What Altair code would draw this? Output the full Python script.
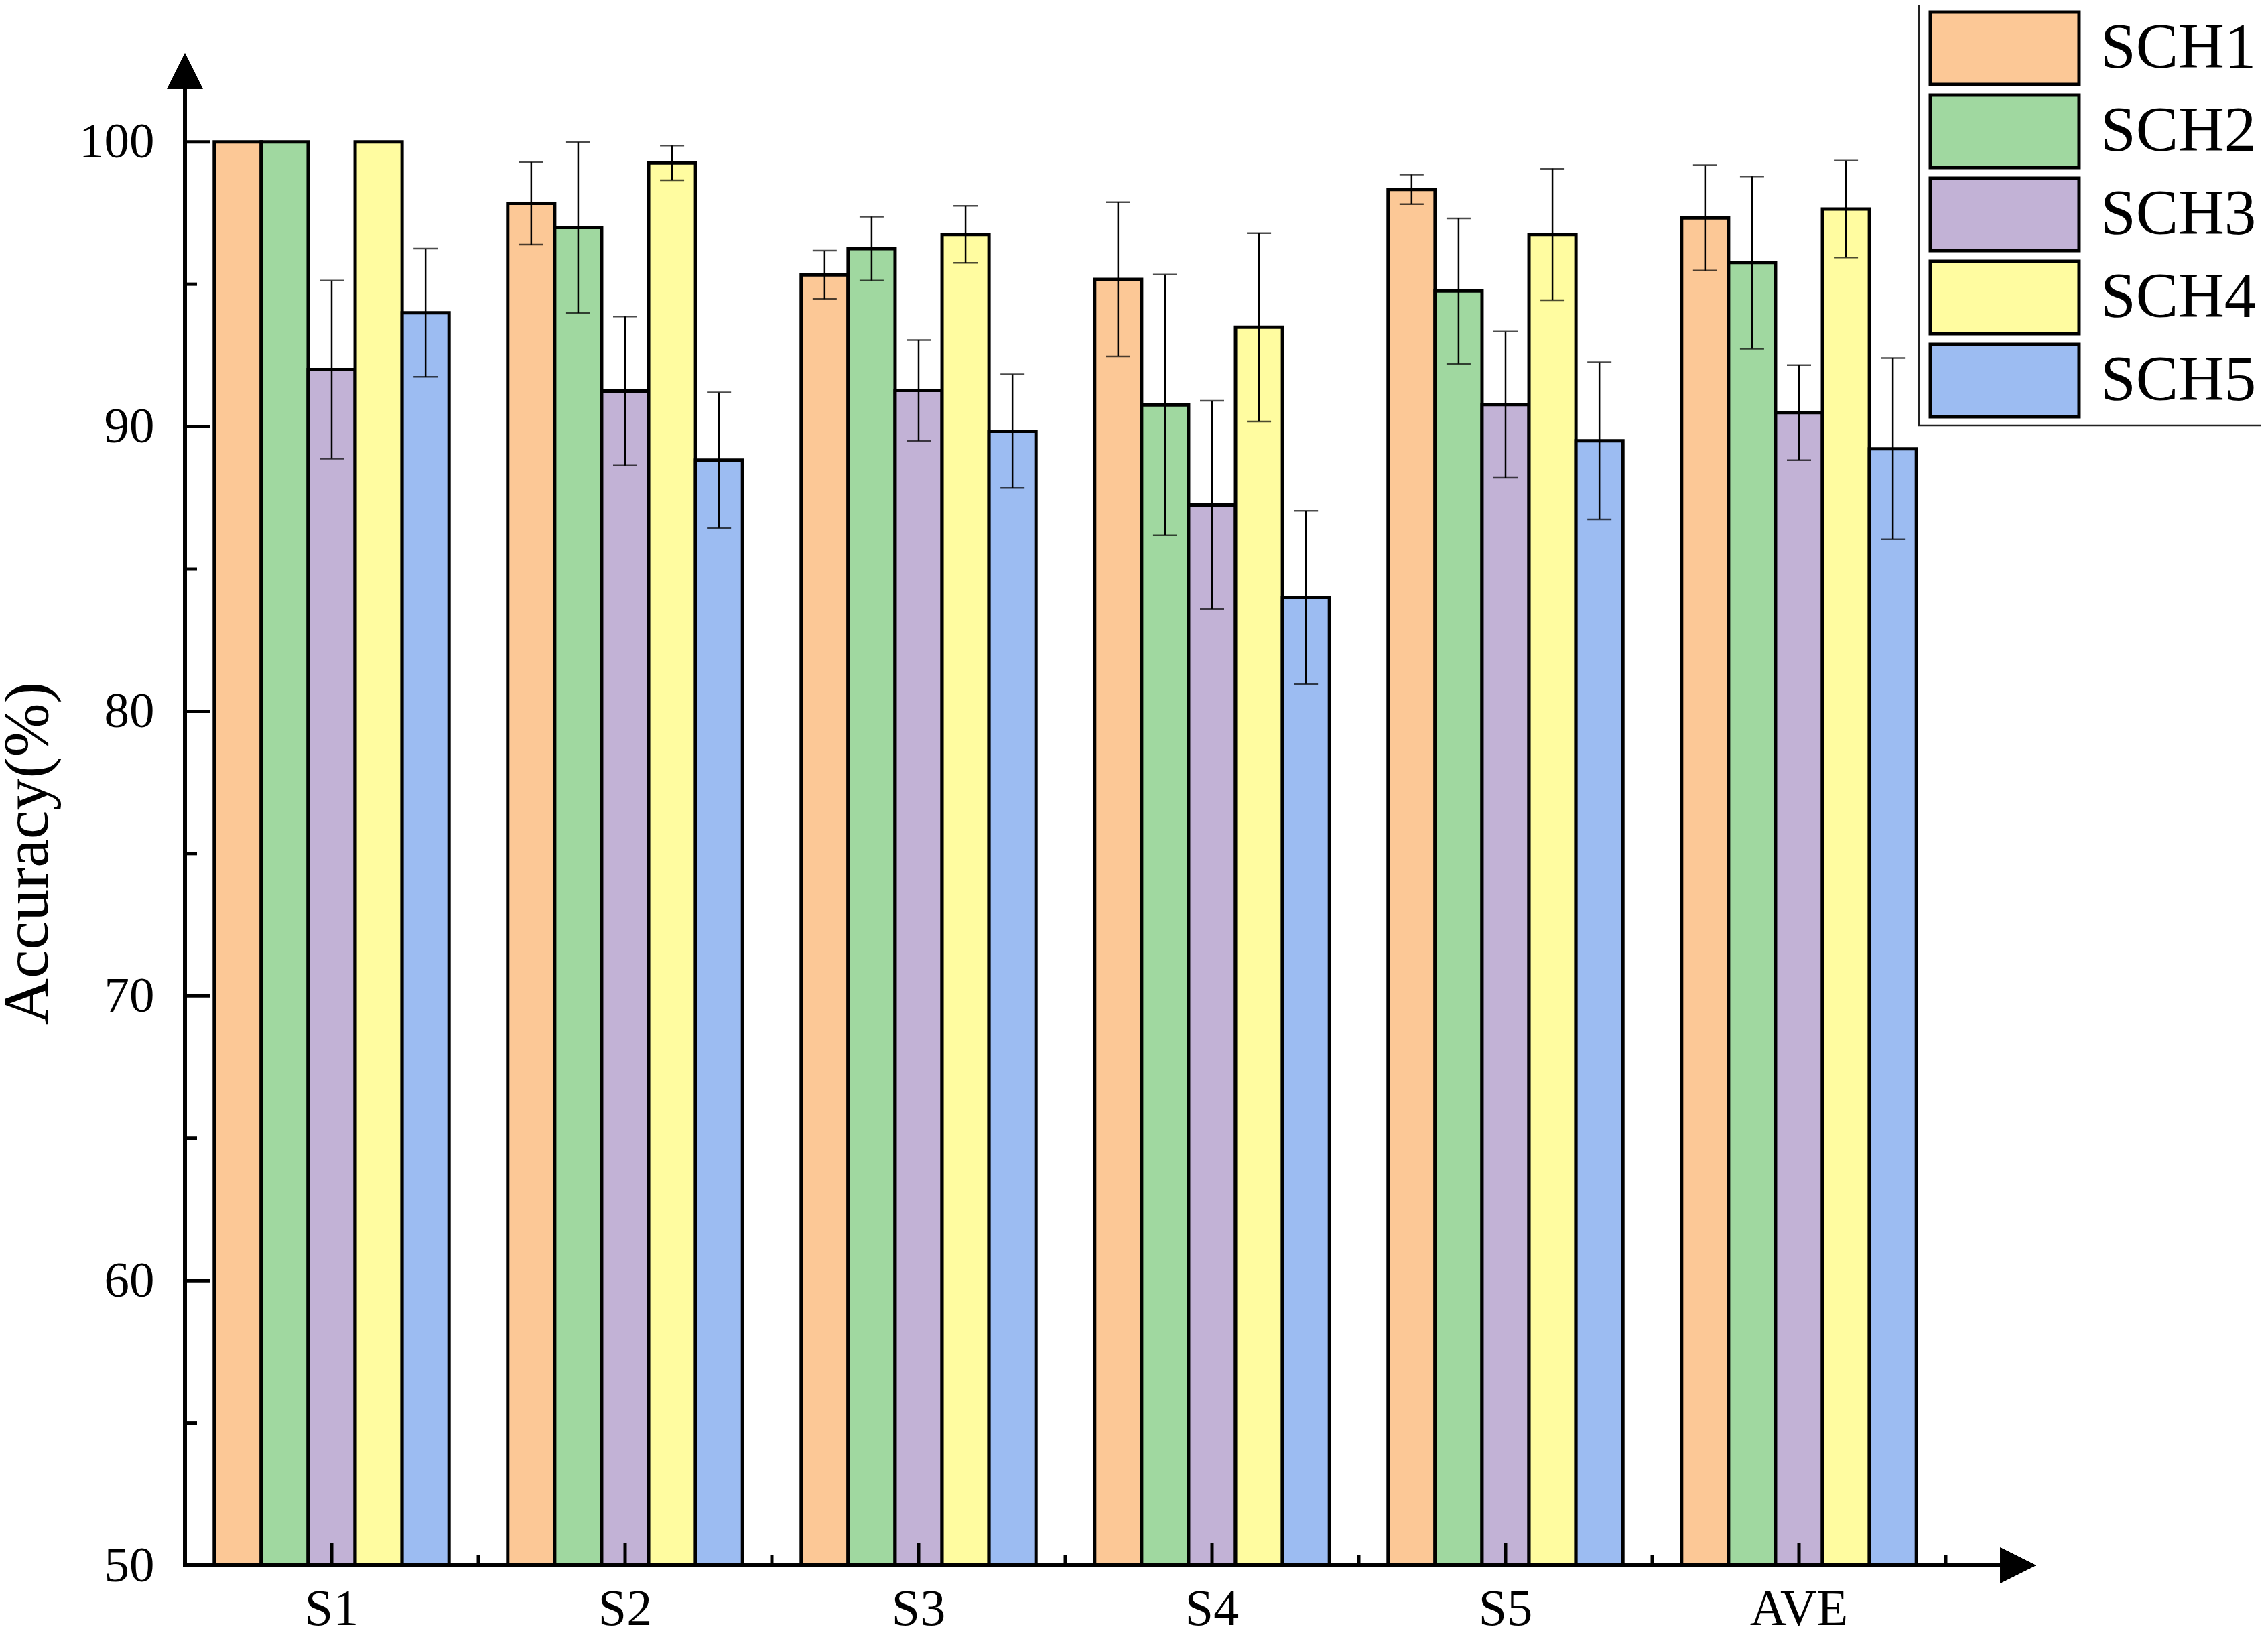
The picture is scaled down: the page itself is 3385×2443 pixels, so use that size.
import altair as alt
import pandas as pd

groups = ["S1", "S2", "S3", "S4", "S5", "AVE"]
schemes = ["SCH1", "SCH2", "SCH3", "SCH4", "SCH5"]
colors = ["#FCC896", "#A0D8A0", "#C2B2D6", "#FFFCA0", "#9CBCF2"]

sch1 = [100, 97.84, 95.33, 95.17, 98.33, 97.33]
sch1_err = [0, 1.45, 0.85, 2.71, 0.52, 1.85]
sch2 = [100, 96.99, 96.25, 90.76, 94.76, 95.76]
sch2_err = [0, 3.00, 1.12, 4.58, 2.55, 3.03]
sch3 = [92.00, 91.25, 91.27, 87.25, 90.77, 90.49]
sch3_err = [3.13, 2.62, 1.77, 3.66, 2.57, 1.67]
sch4 = [100, 99.26, 96.75, 93.49, 96.75, 97.64]
sch4_err = [0, 0.61, 1.00, 3.31, 2.31, 1.70]
sch5 = [94.00, 88.82, 89.84, 84.00, 89.50, 89.22]
sch5_err = [2.25, 2.38, 2.00, 3.04, 2.76, 3.18]

major_y = [50, 60, 70, 80, 90, 100]
minor_y = [55, 65, 75, 85, 95]

vals = [sch1, sch2, sch3, sch4, sch5]
errs = [sch1_err, sch2_err, sch3_err, sch4_err, sch5_err]
rows = []
for s, v, e in zip(schemes, vals, errs):
    for g, vv, ee in zip(groups, v, e):
        rows.append({"group": g, "scheme": s, "acc": vv, "err": ee,
                     "lo": vv - ee, "hi": vv + ee})
df = pd.DataFrame(rows)
df_err = df[df["err"] > 0]
df_groups = pd.DataFrame({"group": groups})
df_major = pd.DataFrame({"v": major_y})
df_minor = pd.DataFrame({"v": minor_y})

W = 2628
H = 2205
FONT = "Liberation Serif"

xscale = alt.Scale(domain=groups, paddingInner=0, paddingOuter=0)
yscale = alt.Scale(domain=[50, 101.9], nice=False, zero=False)
xoff = alt.XOffset("scheme:N", scale=alt.Scale(domain=schemes, paddingInner=0, paddingOuter=0.625))

X = alt.X("group:N", scale=xscale, sort=groups,
          axis=alt.Axis(title=None, ticks=False, domain=False, tickSize=0,
                        labelAngle=0, labelFont=FONT, labelFontSize=76,
                        labelColor="black", labelPadding=28))
Y = alt.Y("acc:Q", scale=yscale,
          axis=alt.Axis(title="Accuracy(%)", values=major_y, ticks=False, tickSize=0,
                        domain=False, grid=False, labelFont=FONT, labelFontSize=75,
                        labelColor="black", labelPadding=46,
                        titleFont=FONT, titleFontSize=96, titleFontWeight="normal",
                        titleColor="black", titleAngle=-90, titleBaseline="bottom",
                        titleX=-186, titleY=1142, titleAlign="center"))

bars = alt.Chart(df).mark_bar(stroke="black", strokeWidth=5, opacity=1).encode(
    x=X,
    xOffset=xoff,
    y=Y,
    y2=alt.datum(50),
    fill=alt.Fill("scheme:N", scale=alt.Scale(domain=schemes, range=colors),
                  legend=alt.Legend(title=None)),
)

err_x = alt.X("group:N", scale=xscale, sort=groups)
rule = alt.Chart(df_err).mark_rule(color="black", strokeWidth=2.5).encode(
    x=err_x, xOffset=xoff,
    y=alt.Y("lo:Q", scale=yscale), y2="hi:Q")
cap_lo = alt.Chart(df_err).mark_tick(color="black", thickness=2.5, size=36, orient="horizontal").encode(
    x=err_x, xOffset=xoff, y=alt.Y("lo:Q", scale=yscale))
cap_hi = alt.Chart(df_err).mark_tick(color="black", thickness=2.5, size=36, orient="horizontal").encode(
    x=err_x, xOffset=xoff, y=alt.Y("hi:Q", scale=yscale))

# axes lines
x_axis_line = alt.Chart(df_groups).mark_rule(color="black", strokeWidth=5).encode(
    x=alt.value(-2.5), x2=alt.value(2710), y=alt.value(H))
y_axis_line = alt.Chart(df_groups).mark_rule(color="black", strokeWidth=5).encode(
    x=alt.value(0), y=alt.value(-2), y2=alt.value(H + 2.5))
y_arrow = alt.Chart(df_groups).mark_point(
    shape="M0,-1L1,1L-1,1Z", size=2809, filled=True, color="black", opacity=1, strokeWidth=0
).encode(x=alt.value(0), y=alt.value(-25))
x_arrow = alt.Chart(df_groups).mark_point(
    shape="M-1,-1L1,0L-1,1Z", size=2809, filled=True, color="black", opacity=1, strokeWidth=0
).encode(x=alt.value(2736), y=alt.value(H))

x_major = alt.Chart(df_groups).mark_rule(color="black", strokeWidth=5).encode(
    x=alt.X("group:N", scale=xscale, sort=groups, bandPosition=0.5),
    y=alt.value(H), y2=alt.value(H - 34))
x_minor = alt.Chart(df_groups).mark_rule(color="black", strokeWidth=5).encode(
    x=alt.X("group:N", scale=xscale, sort=groups, bandPosition=1),
    y=alt.value(H), y2=alt.value(H - 15))
y_major = alt.Chart(df_major).mark_rule(color="black", strokeWidth=5).encode(
    y=alt.Y("v:Q", scale=yscale), x=alt.value(0), x2=alt.value(37))
y_minor = alt.Chart(df_minor).mark_rule(color="black", strokeWidth=5).encode(
    y=alt.Y("v:Q", scale=yscale), x=alt.value(0), x2=alt.value(18))

# legend frame
legend_box = alt.Chart(df_groups.head(1)).mark_rect(
    fill="white", stroke="#222222", strokeWidth=2.5
).encode(x=alt.value(2588), x2=alt.value(3120), y=alt.value(-140), y2=alt.value(504))

S = 105
hw = 111 / (S / 2)
hh = 54 / (S / 2)
legend_path = f"M{-hw:.3f},{-hh:.3f}H{hw:.3f}V{hh:.3f}H{-hw:.3f}Z"

chart = alt.layer(
    bars, rule, cap_lo, cap_hi,
    x_major, x_minor, y_major, y_minor,
    x_axis_line, y_axis_line, y_arrow, x_arrow, legend_box,
).properties(
    width=W, height=H,
    autosize=alt.AutoSizeParams(type="none"),
    padding={"left": 268, "top": 123, "right": 470, "bottom": 95},
    background="white",
).configure_view(stroke=None).configure_legend(
    orient="none", legendX=2661, legendY=-114,
    padding=0, strokeColor=None, fillColor=None,
    symbolType=legend_path, symbolSize=S * S, symbolStrokeColor="black",
    symbolStrokeWidth=5, symbolOpacity=1, labelFont=FONT, labelFontSize=95,
    labelColor="black", labelOffset=88, rowPadding=-6, labelLimit=1000,
)

chart.save("out.html", embed_options={"renderer": "svg", "actions": False})
